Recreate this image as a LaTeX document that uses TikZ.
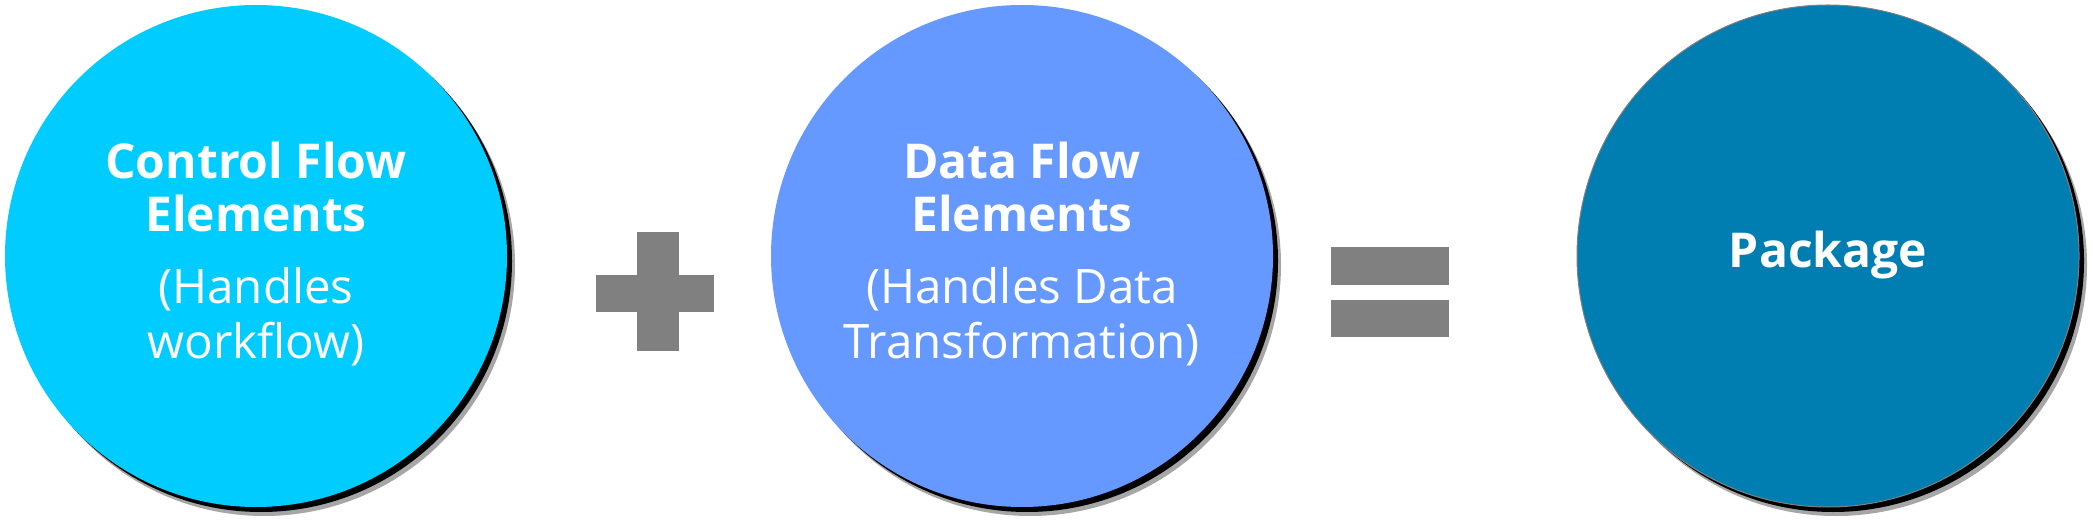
\documentclass[tikz,border=0pt]{standalone}
\usepackage{fontspec}
\setmainfont{Open Sans}
\definecolor{cyanc}{HTML}{00CCFF}
\definecolor{bluec}{HTML}{6699FF}
\definecolor{tealc}{HTML}{007EB1}
\definecolor{opgray}{HTML}{7F807F}
\begin{document}
\begin{tikzpicture}[x=1pt,y=-1pt,
  bubble/.style={circle,minimum size=502pt,inner sep=0pt},
  shadowc/.style={circle,minimum size=502pt,inner sep=0pt,fill=black},
  titletxt/.style={anchor=base,text=white,font=\fontsize{48}{48}\selectfont\bfseries,inner sep=0pt},
  subtxt/.style={anchor=base,text=white,font=\fontsize{47.5}{47.5}\selectfont,inner sep=0pt},
  opbar/.style={fill=opgray}]
\useasboundingbox (0,0) rectangle (2093,521);
% shadows
\node[shadowc,opacity=0.35] (s1b) at (264,265) {};
\node[shadowc] (s1) at (261,261) {};
\node[shadowc,opacity=0.35] (s2b) at (1030,265) {};
\node[shadowc] (s2) at (1027,261) {};
\node[shadowc,opacity=0.35] (s3b) at (1836,265) {};
\node[shadowc] (s3) at (1833,261) {};
% circles
\node[bubble,fill=cyanc] (c1) at (256,256) {};
\node[bubble,fill=bluec] (c2) at (1022,256) {};
\node[bubble,fill=tealc,draw=opgray,line width=1pt] (c3) at (1828,256) {};
% texts circle 1
\node[titletxt] (t1a) at (256,179) {Control Flow};
\node[titletxt] (t1b) at (256,232) {Elements};
\node[subtxt] (t1c) at (256,304) {(Handles};
\node[subtxt] (t1d) at (256,358) {workflow)};
% texts circle 2
\node[titletxt] (t2a) at (1022,179) {Data Flow};
\node[titletxt] (t2b) at (1022,232) {Elements};
\node[subtxt] (t2c) at (1022,304) {(Handles Data};
\node[subtxt] (t2d) at (1022,358) {Transformation)};
% text circle 3
\node[titletxt] (t3) at (1828,268) {Package};
% plus
\fill[opbar] (596,275) rectangle (714,312);
\fill[opbar] (637,232) rectangle (679,351);
% equals
\fill[opbar] (1331,247) rectangle (1449,285);
\fill[opbar] (1331,300) rectangle (1449,337);
\end{tikzpicture}
\end{document}
